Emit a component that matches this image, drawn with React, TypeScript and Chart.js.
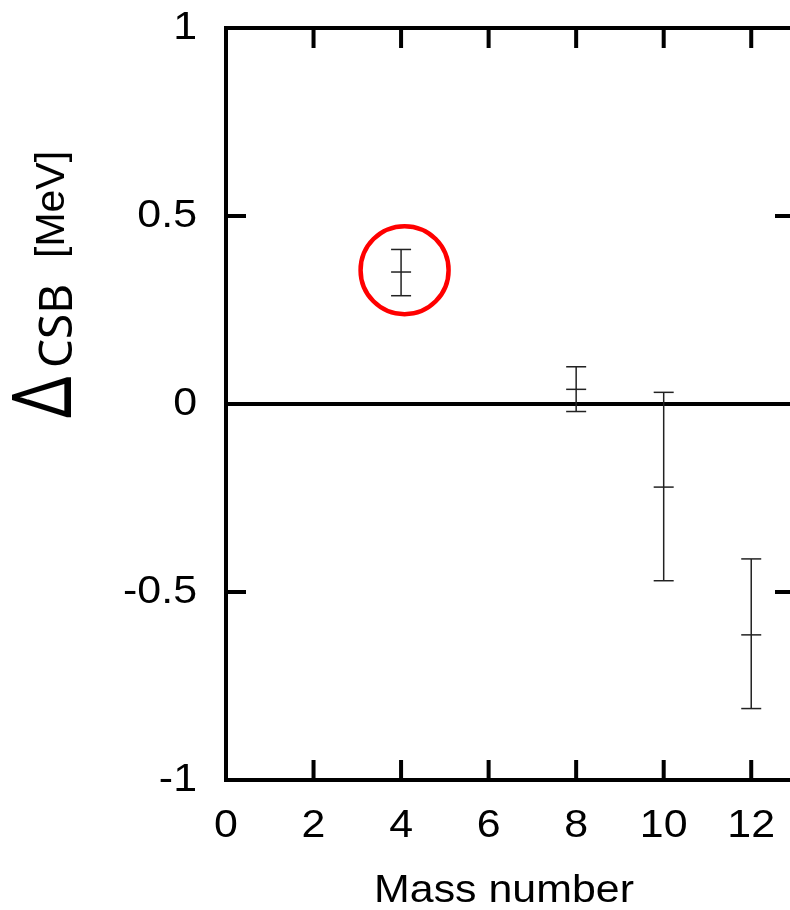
import React, { useEffect, useRef } from 'react';
import { Chart, registerables } from 'chart.js';

Chart.register(...registerables);

// ---- data ----
const massNumbers = [4, 8, 10, 12];
const csbValues = [0.351, 0.039, -0.221, -0.614];
const errLow = [0.288, -0.02, -0.47, -0.81];
const errHigh = [0.411, 0.099, 0.031, -0.412];

const xTicks = [0, 2, 4, 6, 8, 10, 12];
const xTickLabels = ['0', '2', '4', '6', '8', '10', '12'];
const yTicks = [-1, -0.5, 0, 0.5, 1];
const yTickLabels = ['-1', '-0.5', '0', '0.5', '1'];

const xTitle = 'Mass number';
const yTitleSymbol = 'Δ';
const yTitleSub = 'CSB';
const yTitleUnit = '[MeV]';

const highlightPoint = { x: 4.08, y: 0.356 };

const ARIAL = '"Liberation Sans", Arial, sans-serif';
const BAR_COLOR = '#222';
const LABEL_SIZE = 39;
const STRETCH = 1.1;

function stretchedText(ctx: any, text: string, x: number, y: number, align: string) {
  ctx.save();
  ctx.translate(x, y);
  ctx.scale(STRETCH, 1);
  ctx.textAlign = align;
  ctx.textBaseline = 'middle';
  ctx.fillText(text, 0, 0);
  ctx.restore();
}

function verticalText(ctx: any, text: string, font: string, baseX: number, startY: number, sx = 1, sy = 1) {
  ctx.save();
  ctx.translate(baseX, startY);
  ctx.rotate(-Math.PI / 2);
  ctx.scale(sx, sy);
  ctx.font = font;
  ctx.textAlign = 'left';
  ctx.textBaseline = 'alphabetic';
  ctx.fillText(text, 0, 0);
  ctx.restore();
}

const framePlugin = {
  id: 'frameTicks',
  beforeDatasetsDraw(chart: any) {
    const { ctx, chartArea: a, scales } = chart;
    const xs = scales.x;
    const ys = scales.y;
    const tl = 20;
    ctx.save();
    ctx.strokeStyle = '#000';
    ctx.lineWidth = 4;
    ctx.lineCap = 'butt';
    // top & right frame
    ctx.beginPath();
    ctx.moveTo(a.left - 2, a.top);
    ctx.lineTo(a.right + 2, a.top);
    ctx.moveTo(a.right, a.top);
    ctx.lineTo(a.right, a.bottom);
    ctx.stroke();
    // inner ticks
    ctx.beginPath();
    xTicks.forEach((v) => {
      if (v === 0) return;
      const px = xs.getPixelForValue(v);
      ctx.moveTo(px, a.bottom);
      ctx.lineTo(px, a.bottom - tl);
      ctx.moveTo(px, a.top);
      ctx.lineTo(px, a.top + tl);
    });
    yTicks.forEach((v) => {
      if (v === -1 || v === 1) return;
      const py = ys.getPixelForValue(v);
      ctx.moveTo(a.left, py);
      ctx.lineTo(a.left + tl, py);
      ctx.moveTo(a.right, py);
      ctx.lineTo(a.right - tl, py);
    });
    ctx.stroke();
    ctx.restore();
  },
  afterDatasetsDraw(chart: any) {
    const { ctx, scales } = chart;
    const cx = scales.x.getPixelForValue(highlightPoint.x);
    const cy = scales.y.getPixelForValue(highlightPoint.y);
    ctx.save();
    ctx.strokeStyle = '#ff0000';
    ctx.lineWidth = 4.5;
    ctx.beginPath();
    ctx.arc(cx, cy, 44, 0, Math.PI * 2);
    ctx.stroke();
    ctx.restore();
  },
  afterDraw(chart: any) {
    const { ctx, chartArea: a, scales } = chart;
    ctx.save();
    ctx.fillStyle = '#000';
    ctx.font = `${LABEL_SIZE}px ${ARIAL}`;
    // tick labels
    xTicks.forEach((v, i) => {
      stretchedText(ctx, xTickLabels[i], scales.x.getPixelForValue(v), a.bottom + 46, 'center');
    });
    yTicks.forEach((v, i) => {
      stretchedText(ctx, yTickLabels[i], a.left - 29, scales.y.getPixelForValue(v), 'right');
    });
    // x title
    stretchedText(ctx, xTitle, 504, a.bottom + 111, 'center');

    // y title
    verticalText(ctx, yTitleSymbol, '72px "Noto Sans", sans-serif', 71, 418, 0.9, 1.15);
    verticalText(ctx, yTitleSub, '46px "Noto Sans", sans-serif', 72, 368);
    verticalText(ctx, yTitleUnit, '41px ' + ARIAL, 64, 258);
    ctx.restore();
  },
};

export default function App() {
  const ref = useRef<HTMLCanvasElement>(null);

  useEffect(() => {
    document.body.style.margin = '0';
    document.body.style.overflow = 'hidden';
    document.documentElement.style.overflow = 'hidden';
    const canvas = ref.current;
    if (!canvas) return;

    const errorSets = massNumbers.map((m, i) => ({
      data: [
        { x: m, y: errLow[i] },
        { x: m, y: errHigh[i] },
      ],
      showLine: true,
      borderColor: BAR_COLOR,
      borderWidth: 1.5,
      pointStyle: 'line',
      pointRadius: 10,
      pointBorderWidth: 1.5,
      pointBorderColor: BAR_COLOR,
      pointBackgroundColor: BAR_COLOR,
    }));
    const centerSet = {
      data: massNumbers.map((m, i) => ({ x: m, y: csbValues[i] })),
      showLine: false,
      borderColor: BAR_COLOR,
      pointStyle: 'line',
      pointRadius: 10,
      pointBorderWidth: 1.5,
      pointBorderColor: BAR_COLOR,
      pointBackgroundColor: BAR_COLOR,
    };

    const chart = new Chart(canvas, {
      type: 'scatter',
      data: { datasets: [...errorSets, centerSet] as any },
      plugins: [framePlugin],
      options: {
        animation: false,
        responsive: false,
        maintainAspectRatio: false,
        devicePixelRatio: 1,
        layout: { autoPadding: false, padding: { top: 28, right: 5, left: 0, bottom: 0 } },
        plugins: { legend: { display: false }, tooltip: { enabled: false } },
        scales: {
          x: {
            type: 'linear',
            min: 0,
            max: 13,
            afterBuildTicks: (s: any) => {
              s.ticks = xTicks.map((v) => ({ value: v }));
            },
            afterFit: (s: any) => {
              s.height = 130;
            },
            ticks: { display: false },
            grid: { display: false, drawTicks: false },
            border: { display: true, color: '#000', width: 4 },
          },
          y: {
            type: 'linear',
            min: -1,
            max: 1,
            afterBuildTicks: (s: any) => {
              s.ticks = yTicks.map((v) => ({ value: v }));
            },
            afterFit: (s: any) => {
              s.width = 226;
            },
            ticks: { display: false },
            grid: {
              display: true,
              drawTicks: false,
              lineWidth: 4,
              color: (c: any) => (c.tick && c.tick.value === 0 ? '#000' : 'rgba(0,0,0,0)'),
            },
            border: { display: true, color: '#000', width: 4 },
          },
        },
      } as any,
    });

    return () => chart.destroy();
  }, []);

  return (
    <div style={{ width: 790, height: 910, overflow: 'hidden', background: '#fff', position: 'relative' }}>
      <div style={{ width: 800, height: 910, position: 'absolute', left: 0, top: 0 }}>
        <canvas ref={ref} width={800} height={910} style={{ display: 'block', width: 800, height: 910 }} />
      </div>
    </div>
  );
}
